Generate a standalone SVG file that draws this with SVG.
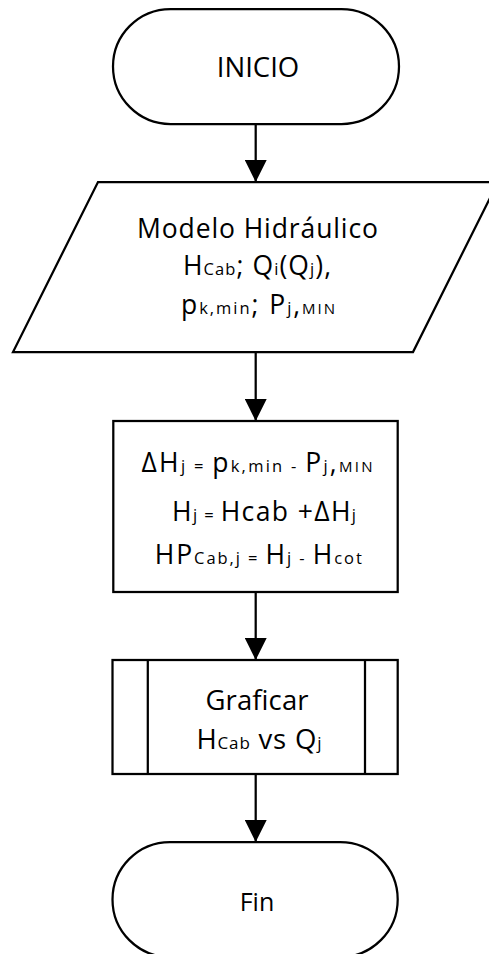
<svg xmlns="http://www.w3.org/2000/svg" width="489" height="954" viewBox="0 0 489 954">
  <style>
    .shape { fill: #ffffff; stroke: #000000; stroke-width: 2.25; stroke-linejoin: miter; }
    .edge { fill: none; stroke: #000000; stroke-width: 2.25; }
    .lbl { font-family: "Open Sans", "Noto Sans", sans-serif; fill: #000000; text-anchor: middle; }
    .m { font-size: 26.5px; }
    .s { font-size: 16.5px; }
    .mc { font-size: 15px; }
  </style>
  <defs>
    <marker id="arrow" markerUnits="userSpaceOnUse" markerWidth="22" markerHeight="22" refX="22" refY="11" orient="auto">
      <path d="M0,0 L22,11 L0,22 Z" fill="#000000"/>
    </marker>
  </defs>
  <rect width="489" height="954" fill="#ffffff"/>

  <!-- connectors -->
  <g id="connectors">
    <line class="edge" x1="255.7" y1="124" x2="255.7" y2="182" marker-end="url(#arrow)"/>
    <line class="edge" x1="255.7" y1="352" x2="255.7" y2="421" marker-end="url(#arrow)"/>
    <line class="edge" x1="255.7" y1="592" x2="255.7" y2="660" marker-end="url(#arrow)"/>
    <line class="edge" x1="255.7" y1="774" x2="255.7" y2="842" marker-end="url(#arrow)"/>
  </g>

  <!-- start terminal -->
  <g id="inicio">
    <rect class="shape" x="113" y="9" width="286" height="115" rx="57.5" ry="57.5"/>
    <text class="lbl" x="258" y="77" font-size="27.5">INICIO</text>
  </g>

  <!-- input data (parallelogram) -->
  <g id="modelo">
    <polygon class="shape" points="98,182 498,182 413,352 13,352"/>
    <text class="lbl m" x="257.5" y="238" textLength="241" lengthAdjust="spacing">Modelo Hidráulico</text>
    <text class="lbl" x="257" y="275" textLength="148" lengthAdjust="spacing"><tspan class="m">H</tspan><tspan class="s">Cab</tspan><tspan class="m">; Q</tspan><tspan class="s">i</tspan><tspan class="m">(Q</tspan><tspan class="s">j</tspan><tspan class="m">),</tspan></text>
    <text class="lbl" x="258" y="314" textLength="154" lengthAdjust="spacing"><tspan class="m">p</tspan><tspan class="s">k,min</tspan><tspan class="m">; P</tspan><tspan class="s">j</tspan><tspan class="m">,</tspan><tspan class="mc">MIN</tspan></text>
  </g>

  <!-- calculation step -->
  <g id="calculo">
    <rect class="shape" x="113.3" y="421" width="284.4" height="171"/>
    <text class="lbl" x="257" y="471.5" textLength="231" lengthAdjust="spacing"><tspan class="m">ΔH</tspan><tspan class="s">j = </tspan><tspan class="m">p</tspan><tspan class="s">k,min - </tspan><tspan class="m">P</tspan><tspan class="s">j</tspan><tspan class="m">,</tspan><tspan class="mc">MIN</tspan></text>
    <text class="lbl" x="264" y="521" textLength="184" lengthAdjust="spacing"><tspan class="m">H</tspan><tspan class="s">j = </tspan><tspan class="m">Hcab +ΔH</tspan><tspan class="s">j</tspan></text>
    <text class="lbl" x="258.3" y="564" textLength="207" lengthAdjust="spacing"><tspan class="m">HP</tspan><tspan class="s">Cab,j = </tspan><tspan class="m">H</tspan><tspan class="s">j - </tspan><tspan class="m">H</tspan><tspan class="s">cot</tspan></text>
  </g>

  <!-- predefined process: plot -->
  <g id="graficar">
    <rect class="shape" x="112.5" y="660" width="285.2" height="114"/>
    <line class="edge" x1="147.8" y1="660" x2="147.8" y2="774"/>
    <line class="edge" x1="365" y1="660" x2="365" y2="774"/>
    <text class="lbl" x="257" y="710" font-size="27.5" textLength="103" lengthAdjust="spacing">Graficar</text>
    <text class="lbl" x="259" y="749" textLength="125" lengthAdjust="spacing"><tspan font-size="27.5">H</tspan><tspan font-size="17">Cab</tspan><tspan font-size="27.5"> vs Q</tspan><tspan font-size="17">j</tspan></text>
  </g>

  <!-- end terminal -->
  <g id="fin">
    <rect class="shape" x="112.5" y="842" width="285.2" height="115" rx="57.5" ry="57.5"/>
    <text class="lbl" x="257" y="911" font-size="25">Fin</text>
  </g>
</svg>
